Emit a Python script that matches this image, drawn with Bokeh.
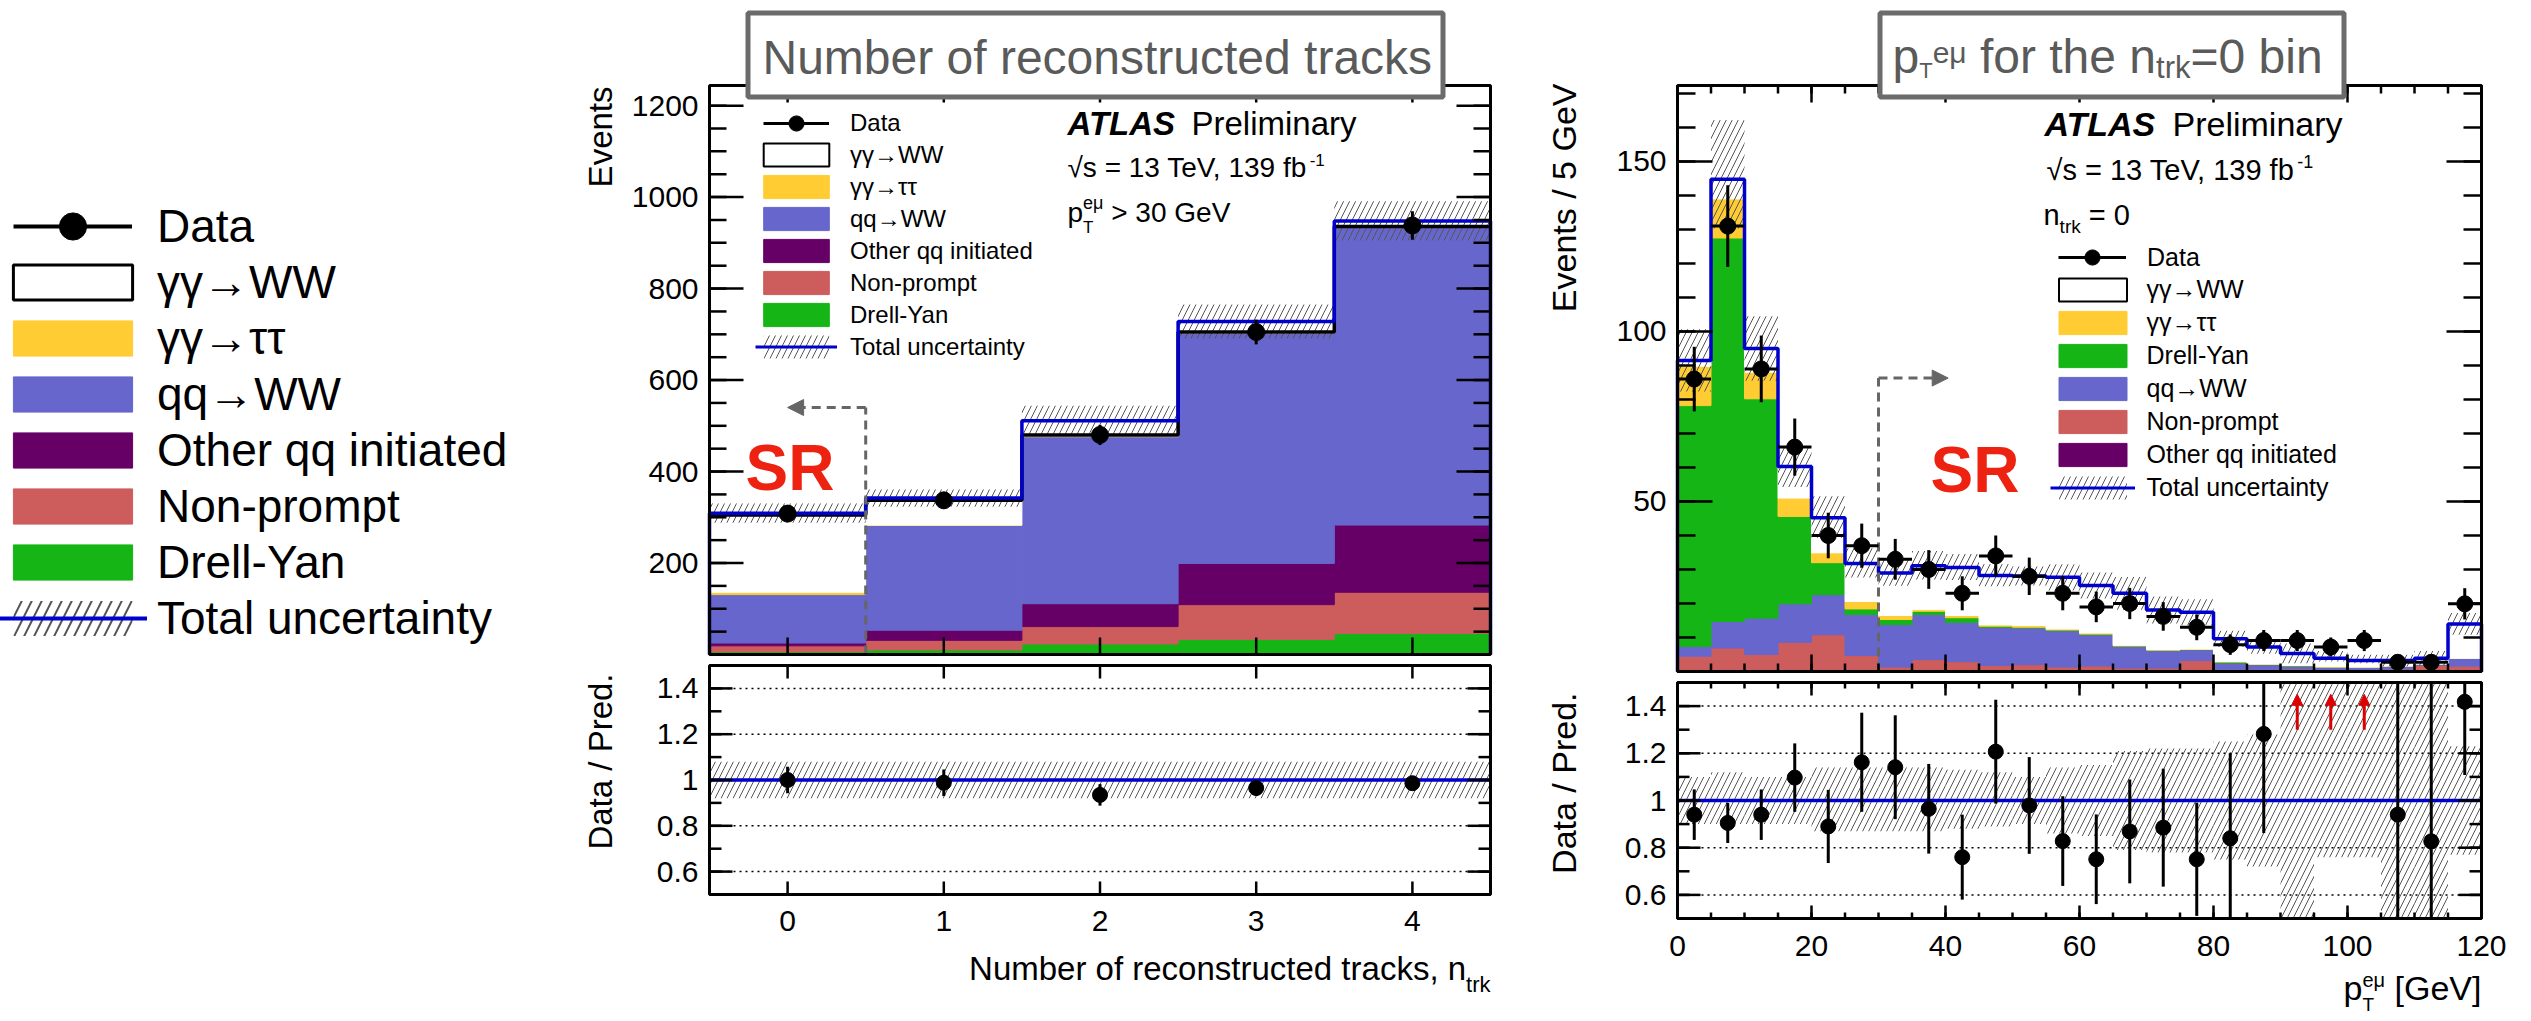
import numpy as np
from math import pi
from bokeh.plotting import figure
from bokeh.models import ColumnDataSource, Legend, LegendItem, Arrow, NormalHead, Range1d
from bokeh.core.properties import value
from bokeh.embed import file_html
from bokeh.resources import INLINE

# ======================= DATA =======================
# --- middle panel: number of reconstructed tracks ---
ntrk_bins = [0, 1, 2, 3, 4]
ntrk_tick_labels = ["0", "1", "2", "3", "4"]
ntrk_data = [308, 337, 480, 705, 938]
ntrk_data_err = [18, 18, 22, 27, 31]
ntrk_drellyan = [6, 10, 23, 33, 46]
ntrk_nonprompt = [13, 21, 38, 76, 90]
ntrk_other_qq = [6, 22, 50, 90, 147]
ntrk_qq_ww = [106, 229, 365, 504, 651]
ntrk_aa_tautau = [5, 1, 1, 0, 0]
ntrk_aa_ww = [169, 54, 3, 2, 2]
ntrk_total_pred = [309, 342, 511, 728, 948]
ntrk_total_unc = [21, 19, 33, 37, 43]
ntrk_ratio = [1.00, 0.988, 0.935, 0.965, 0.986]
ntrk_ratio_err = [0.058, 0.058, 0.047, 0.035, 0.030]
ntrk_ratio_unc = [0.08, 0.08, 0.08, 0.08, 0.08]
ntrk_y_ticks = [200, 400, 600, 800, 1000, 1200]
ntrk_y_labels = ["200", "400", "600", "800", "1000", "1200"]

# --- right panel: pT(e mu) for n_trk = 0 ---
pt_centers = [2.5, 7.5, 12.5, 17.5, 22.5, 27.5, 32.5, 37.5, 42.5, 47.5, 52.5, 57.5,
              62.5, 67.5, 72.5, 77.5, 82.5, 87.5, 92.5, 97.5, 102.5, 107.5, 112.5, 117.5]
pt_half_width = 2.5
pt_data = [86, 131, 89, 66, 40, 37, 33, 30, 23, 34, 28, 23,
           19, 20, 16.2, 13, 7.9, 9.1, 9.1, 7.2, 9.1, 2.7, 2.7, 19.9]
pt_data_err = [9.5, 12, 9.8, 8.4, 6.7, 6.5, 6.0, 5.7, 5.0, 6.0, 5.5, 5.0,
               4.5, 4.6, 4.2, 3.8, 3.0, 3.1, 3.1, 2.8, 3.1, 1.9, 1.9, 4.6]
pt_other_qq = [0.3, 0.3, 0.3, 0.4, 0.4, 0.3, 0.4, 0.3, 0.3, 0.3, 0.3, 0.3,
               0.3, 0.3, 0.3, 0.3, 0.1, 0.1, 0.1, 0.1, 0.1, 0.1, 0.1, 0.3]
pt_nonprompt = [4.2, 6.6, 4.7, 8.2, 10.4, 4.4, 0.9, 3.2, 2.6, 1.5, 1.7, 1.0,
                1.3, 0.7, 0.7, 2.9, 0.4, 0.4, 0.6, 0.2, 0.3, 0.6, 1.7, 1.3]
pt_qq_ww = [2.9, 7.8, 10.7, 11.3, 11.8, 12.1, 12.5, 13.3, 11.6, 11.2, 10.8, 10.7,
            9.2, 6.4, 5.2, 3.2, 2.0, 1.5, 0.9, 1.0, 0.9, 0.9, 0.4, 2.3]
pt_drellyan = [70.8, 112.8, 64.5, 25.7, 9.4, 1.6, 1.5, 0.9, 1.3, 0.3, 0.2, 0.2,
               0.2, 0.1, 0.1, 0.1, 0.3, 0.1, 0.1, 0.0, 0.0, 0.0, 0.0, 0.0]
pt_aa_tautau = [11.6, 11.5, 7.8, 5.4, 2.9, 2.2, 1.2, 0.5, 0.7, 0.4, 0.5, 0.3,
                0.3, 0.2, 0.1, 0.1, 0.1, 0.1, 0.1, 0.1, 0.0, 0.0, 0.0, 0.0]
pt_aa_ww = [1.7, 5.8, 7.0, 9.3, 10.3, 11.2, 12.5, 12.9, 14.1, 14.5, 14.6, 15.2,
            14.0, 15.3, 11.7, 10.8, 6.7, 5.0, 3.5, 2.5, 1.9, 1.6, 1.7, 10.1]
pt_unc_lo = [0.90, 0.90, 0.90, 0.90, 0.87, 0.87, 0.87, 0.87, 0.88, 0.89, 0.90, 0.86,
             0.85, 0.79, 0.78, 0.78, 0.75, 0.72, 0.46, 0.76, 0.76, 0.46, 0.46, 0.77]
pt_unc_hi = [1.10, 1.12, 1.10, 1.10, 1.14, 1.14, 1.14, 1.14, 1.13, 1.12, 1.10, 1.14,
             1.15, 1.21, 1.22, 1.22, 1.25, 1.28, 1.55, 1.55, 1.55, 1.55, 1.55, 1.23]
pt_ratio = [0.94, 0.905, 0.94, 1.097, 0.89, 1.162, 1.141, 0.965, 0.76, 1.207, 0.979, 0.828,
            0.751, 0.869, 0.885, 0.751, 0.84, 1.282, None, None, None, 0.94, 0.827, 1.418]
pt_ratio_err = [0.107, 0.085, 0.107, 0.145, 0.155, 0.21, 0.22, 0.19, 0.18, 0.22, 0.205, 0.19,
                0.19, 0.22, 0.25, 0.24, 0.36, 0.42, None, None, None, 1.0, 1.0, 0.31]
pt_out_of_range = [92.5, 97.5, 102.5]
pt_ticks = [0, 20, 40, 60, 80, 100, 120]
pt_tick_labels = ["0", "20", "40", "60", "80", "100", "120"]
pt_y_ticks = [50, 100, 150]
pt_y_labels = ["50", "100", "150"]
ratio_ticks = [0.6, 0.8, 1.0, 1.2, 1.4]
ratio_tick_labels = ["0.6", "0.8", "1", "1.2", "1.4"]
ratio_grid = [0.6, 0.8, 1.2, 1.4]

# SR markers (data coordinates of the dashed signal-region arrows)
ntrk_sr_edge, ntrk_sr_y, ntrk_sr_tip = 0.5, 540, 0.0
pt_sr_edge, pt_sr_y, pt_sr_tip = 30, 86.3, 40.4
arrow_lo, arrow_hi = 1.3, 1.45

# ======================= STYLE =======================
FONT = "Liberation Sans"
C_AATT = "#ffcc33"
C_QQWW = "#6666cc"
C_OTHER = "#660066"
C_NP = "#cd5c5c"
C_DY = "#14b514"
C_BLUE = "#0000cc"
C_HATCH = "#555555"
C_SR = "#ee2211"
C_ARROW = "#dd0000"
C_TITLE = "#5a5a5a"
C_DASH = "#666666"

ADV = {' ': .278, ',': .278, '-': .333, '.': .278, '/': .278, '=': .584, '>': .584,
       '[': .278, ']': .278, 'A': .667, 'D': .722, 'E': .667, 'G': .778, 'N': .722,
       'P': .667, 'S': .667, 'T': .611, 'V': .667, 'W': .944, 'L': .556,
       'a': .556, 'b': .556, 'c': .5, 'd': .556, 'e': .556, 'f': .278, 'h': .556,
       'i': .222, 'k': .5, 'l': .222, 'm': .833, 'n': .556, 'o': .556, 'p': .556,
       'r': .333, 's': .5, 't': .278, 'u': .556, 'y': .5, 'μ': .576, '√': .45}


def tw(s, size):
    return sum(ADV.get(c, .556) for c in s) * size


# ======================= CANVAS =======================
M = 0            # bokeh's page template has no body margin
PW, PH = 2525, 1015


def Y(py):       # page y (down) -> canvas coordinate (up)
    return M + PH - py


class Panel:
    def __init__(s, xn, yn, left, top, right, bottom, x0, x1, y0, y1):
        s.xn, s.yn = xn, yn
        s.left, s.top, s.right, s.bottom = left, top, right, bottom
        s.x0, s.x1, s.y0, s.y1 = x0, x1, y0, y1

    def xrange(s):
        k = (s.x1 - s.x0) / (s.right - s.left)
        return Range1d(s.x0 + (M - s.left) * k, s.x0 + (M + PW - s.left) * k)

    def yrange(s):
        k = (s.y1 - s.y0) / (s.bottom - s.top)
        return Range1d(s.y0 - (M + PH - s.bottom) * k, s.y1 + (s.top - M) * k)

    def rn(s):
        return dict(x_range_name=s.xn, y_range_name=s.yn)


MID_UP = Panel("ntrk", "mid", 709, 85, 1490, 654, -0.5, 4.5, 0, 1244)
MID_R = Panel("ntrk", "midr", 709, 665, 1490, 894, -0.5, 4.5, 0.5, 1.5)
PT_UP = Panel("pt", "ptu", 1677, 85, 2481, 671, 0, 120, 0, 172.35)
PT_R = Panel("pt", "ptr", 1677, 682, 2481, 918, 0, 120, 0.5, 1.5)

p = figure(frame_width=PW, frame_height=PH, min_border=0,
           x_range=Range1d(M, M + PW), y_range=Range1d(0, PH),
           x_axis_location=None, y_axis_location=None,
           output_backend="svg", toolbar_location=None)
p.outline_line_color = None
p.grid.visible = False
p.background_fill_color = "white"
p.border_fill_color = "white"
p.extra_x_ranges = {"ntrk": MID_UP.xrange(), "pt": PT_UP.xrange()}
p.extra_y_ranges = {"mid": MID_UP.yrange(), "midr": MID_R.yrange(),
                    "ptu": PT_UP.yrange(), "ptr": PT_R.yrange()}


def text(px, py, s, size, color="black", style="normal", align="left", angle=0.0,
         centered=False):
    """py is the text baseline (or its centre if centered=True)"""
    yc = py if centered else py - 0.35 * size
    p.text(x=[px], y=[Y(yc)], text=[s], text_font=value(FONT), text_font_size=f"{size}px",
           text_color=color, text_font_style=style, text_align=align,
           text_baseline="middle", angle=angle)


def rich(px, py, segs, style="normal", color="black"):
    """segs: (text, size, dy, advance); leading blanks are turned into an offset"""
    x = px
    for s, size, dy, adv in segs:
        core = s.lstrip(" ")
        lead = tw(s[:len(s) - len(core)], size)
        text(x + lead, py + dy, core, size, style=style, color=color)
        if adv:
            x += tw(s, size)
    return x


def hatch_kw(scale=12, weight=1.0):
    return dict(fill_color=None, line_color=None, hatch_pattern="/",
                hatch_color=C_HATCH, hatch_scale=scale, hatch_weight=weight)


def stack(P, left, right, comps):
    base = np.zeros(len(left))
    for vals, col in comps:
        top = base + np.asarray(vals, float)
        p.quad(left=left, right=right, bottom=base, top=top,
               fill_color=col, line_color=col, line_width=1, **P.rn())
        base = top
    return base


def step_xy(left, right, vals, close=False):
    xs, ys = [], []
    if close:
        xs.append(left[0]); ys.append(0)
    for l, r, v in zip(left, right, vals):
        xs += [l, r]; ys += [v, v]
    if close:
        xs.append(right[-1]); ys.append(0)
    return xs, ys


def data_points(P, x, y, err, size, xerr=None, clip=None):
    x = np.asarray(x, float); y = np.asarray(y, float); err = np.asarray(err, float)
    lo, hi = y - err, y + err
    if clip is not None:
        lo, hi = np.clip(lo, *clip), np.clip(hi, *clip)
    p.segment(x0=x, y0=lo, x1=x, y1=hi, line_color="black", line_width=3, **P.rn())
    if xerr is not None:
        p.segment(x0=x - xerr, y0=y, x1=x + xerr, y1=y, line_color="black", line_width=3,
                  **P.rn())
    p.scatter(x=x, y=y, marker="circle", size=size, fill_color="black", line_color="black",
              **P.rn())


def frame(P, xt, xm, yt, ym, xlen, ylen):
    p.quad(left=[P.left], right=[P.right], top=[Y(P.top)], bottom=[Y(P.bottom)],
           fill_color=None, line_color="black", line_width=3)
    for vals, L in ((xt, xlen[0]), (xm, xlen[1])):
        if len(vals) == 0 or L == 0:
            continue
        n = len(vals)
        for edge, d in ((Y(P.bottom), 1), (Y(P.top), -1)):
            p.segment(x0=vals, x1=vals, y0=[edge] * n, y1=[edge + d * L] * n,
                      line_color="black", line_width=2.5, x_range_name=P.xn)
    for vals, L in ((yt, ylen[0]), (ym, ylen[1])):
        n = len(vals)
        for edge, d in ((P.left, 1), (P.right, -1)):
            p.segment(x0=[edge] * n, x1=[edge + d * L] * n, y0=vals, y1=vals,
                      line_color="black", line_width=2.5, y_range_name=P.yn)


def xlabels(P, vals, labels, py):
    p.text(x=vals, y=[Y(py)] * len(vals), text=labels, text_font=value(FONT),
           text_font_size="30px", text_color="black", text_align="center",
           text_baseline="middle", x_range_name=P.xn)


def ylabels(P, vals, labels):
    p.text(x=[P.left - 11] * len(vals), y=vals, text=labels, text_font=value(FONT),
           text_font_size="30px", text_color="black", text_align="right",
           text_baseline="middle", y_range_name=P.yn)


def ratio_grid_lines(P):
    n = len(ratio_grid)
    p.segment(x0=[P.left] * n, x1=[P.right] * n, y0=ratio_grid, y1=ratio_grid,
              line_color="black", line_width=1.5, line_dash="2 4", y_range_name=P.yn)


def title_box(l, t, r, b):
    p.quad(left=[l + 2.5], right=[r - 2.5], top=[Y(t + 2.5)], bottom=[Y(b - 2.5)],
           fill_color="white", line_color="#6b6b6b", line_width=5)


# ---------------- legends ----------------
OFF = -5000.0   # dummy renderers for legend swatches live off-canvas


def dummies(key, lw=3, box_lw=2, hscale=12, hweight=1.0):
    q = dict(left=[OFF], right=[OFF + 1], top=[1], bottom=[0])
    if key == "data":
        return [p.line(x=[OFF, OFF + 1], y=[0, 0], line_color="black", line_width=lw),
                p.scatter(x=[OFF], y=[0], marker="circle", size=10,
                          fill_color="black", line_color="black")]
    if key == "unc":
        return [p.quad(**q, **hatch_kw(hscale, hweight)),
                p.line(x=[OFF, OFF + 1], y=[0, 0], line_color=C_BLUE, line_width=lw)]
    if key == "aaww":
        return [p.quad(**q, fill_color="white", line_color="black", line_width=box_lw)]
    col = {"aatt": C_AATT, "qqww": C_QQWW, "other": C_OTHER, "np": C_NP, "dy": C_DY}[key]
    return [p.quad(**q, fill_color=col, line_color=col)]


LABELS = {"data": "Data", "aaww": "γγ→WW", "aatt": "γγ→ττ", "qqww": "qq→WW",
          "other": "Other qq initiated", "np": "Non-prompt", "dy": "Drell-Yan",
          "unc": "Total uncertainty"}


def legend_block(keys, bx0, bx1, row0, pitch, box_h, font, text_x, data_gh,
                 lw=3, box_lw=2, hscale=12, hweight=1.0):
    """bx0..bx1: visible swatch extent (bokeh insets area swatches by 10 %)"""
    ip = int(round(pitch))
    common = dict(spacing=0, padding=0, margin=0, label_text_font=FONT,
                  label_text_font_size=f"{font}px", label_text_color="black",
                  border_line_color=None, background_fill_alpha=0)
    # data row
    gw = int(round(bx1 - bx0))
    d_items = [LegendItem(label=LABELS["data"], renderers=dummies("data", lw))]
    bottom = row0 + data_gh / 2
    p.add_layout(Legend(items=d_items, location=(bx0 - M, M + PH - bottom),
                        glyph_width=gw, glyph_height=int(data_gh), label_height=int(data_gh),
                        label_standoff=int(round(text_x - bx1)), **common))
    # area rows
    gw2 = int(round((bx1 - bx0) / 0.8))
    gx0 = bx0 - (gw2 - (bx1 - bx0)) / 2
    gh2 = int(round(box_h / 0.8))
    items = [LegendItem(label=LABELS[k], renderers=dummies(k, lw, box_lw, hscale, hweight))
             for k in keys]
    top = row0 + pitch - ip / 2
    bottom = top + ip * len(keys)
    p.add_layout(Legend(items=items, location=(gx0 - M, M + PH - bottom),
                        glyph_width=gw2, glyph_height=gh2, label_height=ip,
                        label_standoff=int(round(text_x - (gx0 + gw2))), **common))


# ======================= MIDDLE PANEL =======================
n = np.asarray(ntrk_bins, float)
nl, nr = n - 0.5, n + 0.5
top = stack(MID_UP, nl, nr, [(ntrk_drellyan, C_DY), (ntrk_nonprompt, C_NP),
                             (ntrk_other_qq, C_OTHER), (ntrk_qq_ww, C_QQWW),
                             (ntrk_aa_tautau, C_AATT), (ntrk_aa_ww, "white")])
tot = np.asarray(ntrk_total_pred, float)
unc = np.asarray(ntrk_total_unc, float)
p.quad(left=nl, right=nr, bottom=tot - unc, top=tot + unc, **hatch_kw(), **MID_UP.rn())
xs, ys = step_xy(nl, nr, top)
p.line(xs, ys, line_color="black", line_width=3.5, **MID_UP.rn())
xs, ys = step_xy(nl, nr, tot, close=True)
p.line(xs, ys, line_color=C_BLUE, line_width=3.5, **MID_UP.rn())
p.line([ntrk_sr_edge, ntrk_sr_edge], [0, ntrk_sr_y], line_color=C_DASH, line_width=3,
       line_dash="9 6", **MID_UP.rn())
data_points(MID_UP, n, ntrk_data, ntrk_data_err, 17)

# ratio
ratio_grid_lines(MID_R)
ru = np.asarray(ntrk_ratio_unc, float)
p.quad(left=nl, right=nr, bottom=1 - ru, top=1 + ru, **hatch_kw(), **MID_R.rn())
p.line([nl[0], nr[-1]], [1.0, 1.0], line_color=C_BLUE, line_width=3.5, **MID_R.rn())
data_points(MID_R, n, ntrk_ratio, ntrk_ratio_err, 15, clip=(0.5, 1.5))

# ======================= RIGHT PANEL =======================
c = np.asarray(pt_centers, float)
pl, pr = c - pt_half_width, c + pt_half_width
top = stack(PT_UP, pl, pr, [(pt_other_qq, C_OTHER), (pt_nonprompt, C_NP), (pt_qq_ww, C_QQWW),
                            (pt_drellyan, C_DY), (pt_aa_tautau, C_AATT), (pt_aa_ww, "white")])
p.quad(left=pl, right=pr, bottom=top * np.asarray(pt_unc_lo), top=top * np.asarray(pt_unc_hi),
       **hatch_kw(), **PT_UP.rn())
xs, ys = step_xy(pl, pr, top, close=True)
p.line(xs, ys, line_color=C_BLUE, line_width=3.5, **PT_UP.rn())
p.line([pt_sr_edge, pt_sr_edge], [0, pt_sr_y], line_color=C_DASH, line_width=3,
       line_dash="9 6", **PT_UP.rn())
data_points(PT_UP, c, pt_data, pt_data_err, 16, xerr=pt_half_width)

# ratio
ratio_grid_lines(PT_R)
p.quad(left=pl, right=pr, bottom=np.clip(pt_unc_lo, 0.5, 1.5), top=np.clip(pt_unc_hi, 0.5, 1.5),
       **hatch_kw(), **PT_R.rn())
p.line([pl[0], pr[-1]], [1.0, 1.0], line_color=C_BLUE, line_width=3.5, **PT_R.rn())
ok = [i for i, v in enumerate(pt_ratio) if v is not None]
data_points(PT_R, [pt_centers[i] for i in ok], [pt_ratio[i] for i in ok],
            [pt_ratio_err[i] for i in ok], 15, clip=(0.5, 1.5))

# ======================= FRAMES / TICKS =======================
frame(MID_UP, ntrk_bins, [], ntrk_y_ticks, list(np.arange(50, 1244, 50)), (17, 0), (34, 17))
frame(MID_R, ntrk_bins, [], ratio_ticks, list(np.round(np.arange(0.5, 1.51, 0.1), 2)),
      (13, 0), (23, 12))
frame(PT_UP, pt_ticks, list(np.arange(0, 121, 5)), pt_y_ticks, list(np.arange(0, 171, 10)),
      (17, 8), (35, 18))
frame(PT_R, pt_ticks, list(np.arange(0, 121, 5)), ratio_ticks,
      list(np.round(np.arange(0.5, 1.51, 0.1), 2)), (13, 6), (23, 12))

ylabels(MID_UP, ntrk_y_ticks, ntrk_y_labels)
ylabels(MID_R, ratio_ticks, ratio_tick_labels)
xlabels(MID_R, ntrk_bins, ntrk_tick_labels, 920)
ylabels(PT_UP, pt_y_ticks, pt_y_labels)
ylabels(PT_R, ratio_ticks, ratio_tick_labels)
xlabels(PT_R, pt_ticks, pt_tick_labels, 945)

# ======================= TEXTS =======================
# middle
title_box(745, 10, 1445, 99)
text(762, 74, "Number of reconstructed tracks", 48, color=C_TITLE)
text(600, 86, "Events", 33, align="right", angle=pi / 2, centered=True)
text(600, 673, "Data / Pred.", 33, align="right", angle=pi / 2, centered=True)
segs = [("Number of reconstructed tracks, n", 33, 0, True), ("trk", 22, 12, True)]
rich(MID_R.right - sum(tw(s, z) for s, z, d, a in segs), 980, segs)
text(745, 490, "SR", 64, color=C_SR, style="bold")
text(1067, 135, "ATLAS", 33, style="bold italic")
text(1191, 135, "Preliminary", 33)
rich(1067, 177, [("√s = 13 TeV, 139 fb", 28, 0, True), ("-1", 17, -12, True)])
rich(1067, 222, [("p", 28, 0, True), ("eμ", 18, -13, False), ("T", 17, 11, False)])
rich(1067 + tw("p", 28) + tw("eμ", 18), 222, [(" > 30 GeV", 28, 0, True)])

# right
title_box(1877, 10, 2346, 99)
rich(1892, 73, [("p", 48, 0, True), ("T", 22, 5, True), ("eμ", 30, -11, True),
                (" for the n", 48, 0, True), ("trk", 31, 5, True), ("=0 bin", 48, 0, True)],
     color=C_TITLE)
text(1563, 83, "Events / 5 GeV", 34, align="right", angle=pi / 2, centered=True)
text(1563, 692, "Data / Pred.", 34, align="right", angle=pi / 2, centered=True)
xw = tw("p", 34) + tw("eμ", 20) + tw(" [GeV]", 34)
x0 = PT_R.right - xw
rich(x0, 999, [("p", 34, 0, True), ("eμ", 20, -13, False), ("T", 19, 12, False)])
rich(x0 + tw("p", 34) + tw("eμ", 20), 999, [(" [GeV]", 34, 0, True)])
text(1930, 492, "SR", 64, color=C_SR, style="bold")
text(2044, 135, "ATLAS", 34, style="bold italic")
text(2172, 135, "Preliminary", 34)
rich(2046, 180, [("√s = 13 TeV, 139 fb", 29, 0, True), ("-1", 18, -13, True)])
rich(2043, 225, [("n", 29, 0, True), ("trk", 19, 8, True), (" = 0", 29, 0, True)])

# ======================= ARROWS =======================
p.add_layout(Arrow(end=NormalHead(size=16, fill_color=C_DASH, line_color=C_DASH),
                   x_start=ntrk_sr_edge, y_start=ntrk_sr_y, x_end=ntrk_sr_tip, y_end=ntrk_sr_y,
                   line_color=C_DASH, line_width=3, line_dash="9 6", **MID_UP.rn()))
p.add_layout(Arrow(end=NormalHead(size=16, fill_color=C_DASH, line_color=C_DASH),
                   x_start=pt_sr_edge, y_start=pt_sr_y, x_end=pt_sr_tip, y_end=pt_sr_y,
                   line_color=C_DASH, line_width=3, line_dash="9 6", **PT_UP.rn()))
asrc = ColumnDataSource(dict(x=pt_out_of_range, y0=[arrow_lo] * len(pt_out_of_range),
                             y1=[arrow_hi] * len(pt_out_of_range)))
p.add_layout(Arrow(end=NormalHead(size=11, fill_color=C_ARROW, line_color=C_ARROW),
                   source=asrc, x_start="x", y_start="y0", x_end="x", y_end="y1",
                   line_color=C_ARROW, line_width=3, **PT_R.rn()))

# ======================= LEGENDS =======================
legend_block(["aaww", "aatt", "qqww", "other", "np", "dy", "unc"],
             13, 132, 226, 56.3, 35, 46, 157, 68, lw=4, box_lw=3, hscale=20, hweight=2)
legend_block(["aaww", "aatt", "qqww", "other", "np", "dy", "unc"],
             763, 829, 123, 31.6, 23, 24, 850, 38)
legend_block(["aaww", "aatt", "dy", "qqww", "np", "other", "unc"],
             2058, 2126, 257, 32.57, 23, 25, 2147, 38)

open("out.html", "w").write(file_html(p, INLINE, "plot"))
